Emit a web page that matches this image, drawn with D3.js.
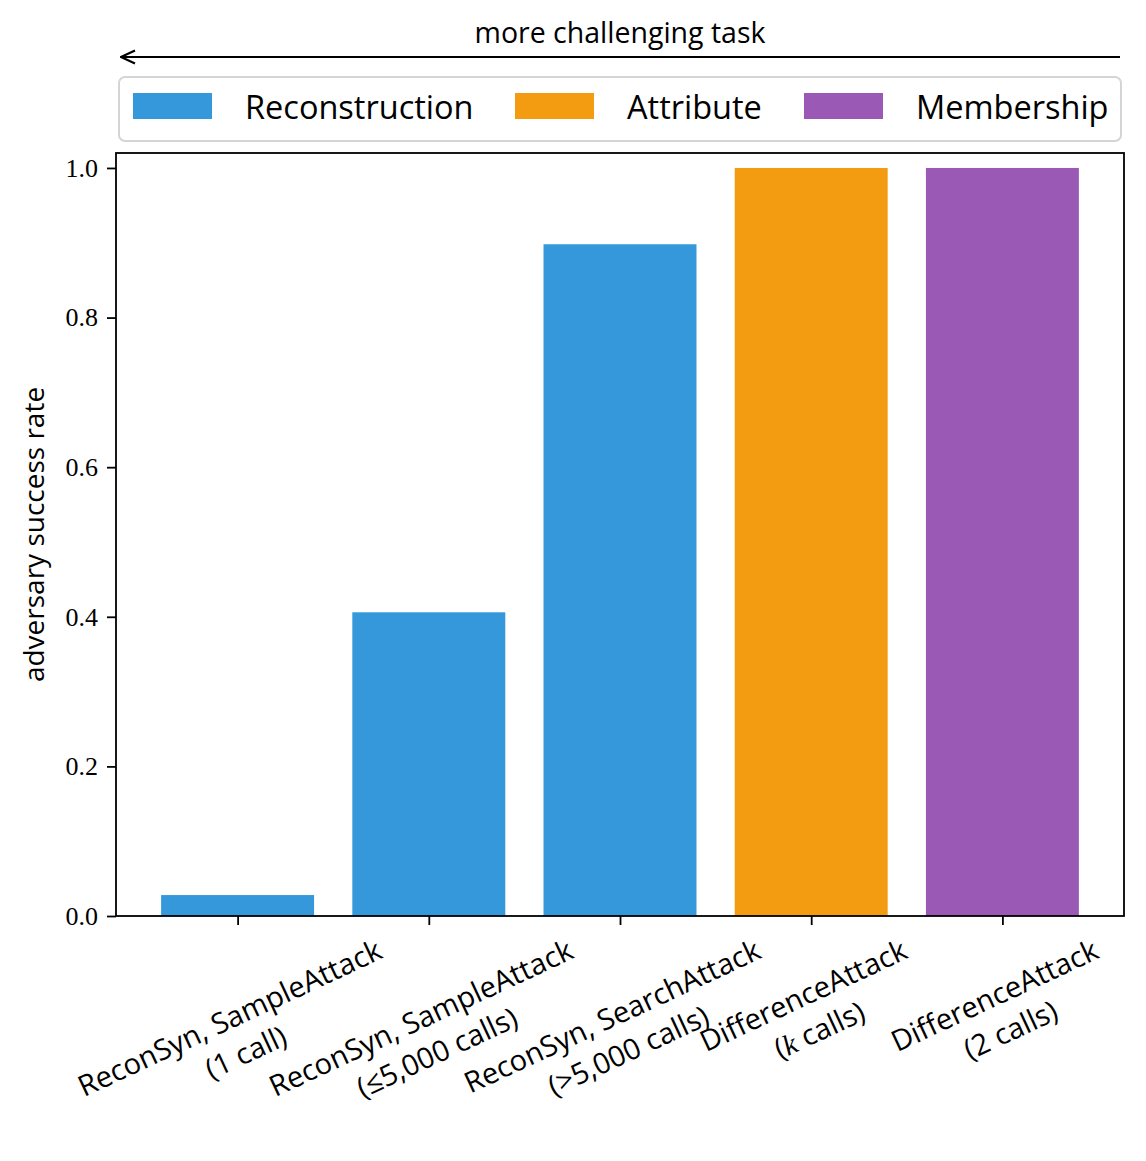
<!DOCTYPE html>
<html>
<head>
<meta charset="utf-8">
<script src="https://cdn.jsdelivr.net/npm/d3@7"></script>
<style>
  body { margin: 0; background: #fff; }
  svg { display: block; }
</style>
</head>
<body>
<svg id="chart" width="1146" height="1161"></svg>
<script>
// Data
const labelLine1 = ["ReconSyn, SampleAttack", "ReconSyn, SampleAttack", "ReconSyn, SearchAttack", "DifferenceAttack", "DifferenceAttack"];
const labelLine2 = ["(1 call)", "(\u22645,000 calls)", "(>5,000 calls)", "(k calls)", "(2 calls)"];
const successRate = [0.028, 0.406, 0.898, 1.0, 1.0];
const attackType = ["Reconstruction", "Reconstruction", "Reconstruction", "Attribute", "Membership"];
const legendNames = ["Reconstruction", "Attribute", "Membership"];
const legendColors = ["#3498db", "#f39c12", "#9b59b6"];
const yTicks = [0, 0.2, 0.4, 0.6, 0.8, 1.0];

const svg = d3.select("#chart");
const margin = { left: 116, right: 22, top: 153, bottom: 245 };
const width = 1146;
const height = 1161;
const sans = "'Open Sans', Lato, sans-serif";

const color = d3.scaleOrdinal().domain(legendNames).range(legendColors);

const x = d3.scalePoint()
  .domain(d3.range(successRate.length))
  .range([margin.left, width - margin.right])
  .padding(0.636);
const barW = x.step() * 0.8;

const y = d3.scaleLinear().domain([0, 1.02]).range([height - margin.bottom, margin.top]);

// Bars
svg.append("g").selectAll("rect")
  .data(successRate)
  .join("rect")
  .attr("x", (d, i) => x(i) - barW / 2)
  .attr("y", d => y(d))
  .attr("width", barW)
  .attr("height", d => y(0) - y(d))
  .attr("fill", (d, i) => color(attackType[i]));

// Y axis
const yAxis = svg.append("g")
  .attr("transform", `translate(${margin.left},0)`)
  .call(d3.axisLeft(y).tickValues(yTicks).tickFormat(d3.format(".1f")).tickSizeOuter(0).tickSize(9).tickPadding(9));
yAxis.selectAll("text")
  .attr("font-family", "'Liberation Serif', 'DejaVu Serif', serif")
  .attr("font-size", 26)
  .attr("fill", "#000");
yAxis.selectAll("line").attr("stroke-width", 1.8);
yAxis.select(".domain").remove();

// X axis ticks
const xAxis = svg.append("g")
  .attr("transform", `translate(0,${y(0)})`)
  .call(d3.axisBottom(x).tickFormat("").tickSizeOuter(0).tickSize(9));
xAxis.selectAll("line").attr("stroke-width", 1.8);
xAxis.select(".domain").remove();

// Frame
svg.append("rect")
  .attr("x", margin.left).attr("y", margin.top)
  .attr("width", width - margin.right - margin.left)
  .attr("height", y(0) - margin.top)
  .attr("fill", "none").attr("stroke", "#000").attr("stroke-width", 1.8);

// X tick labels, rotated 25 degrees, top of rotated box below axis
const labelTop = y(0) + 13;
successRate.forEach((d, i) => {
  const g = svg.append("g");
  const t = g.append("text")
    .attr("font-family", sans)
    .attr("font-size", 29)
    .attr("text-anchor", "middle")
    .attr("fill", "#000");
  t.append("tspan").attr("x", 0).attr("y", -10).text(labelLine1[i]);
  const l2 = t.append("tspan").attr("x", 0).attr("y", 28);
  if (labelLine2[i].includes("k calls")) {
    l2.append("tspan").text("(");
    l2.append("tspan").attr("font-family", "'Liberation Serif', serif").attr("font-style", "italic").text("k");
    l2.append("tspan").text(" calls)");
  } else {
    l2.text(labelLine2[i]);
  }
  g.attr("transform", `translate(${x(i)},0) rotate(-25)`);
  const r = g.node().getBoundingClientRect();
  const cx = r.left + r.width / 2;
  g.attr("transform", `translate(${2 * x(i) - cx},${labelTop - r.top}) rotate(-25)`);
});

// Y label
svg.append("text")
  .attr("transform", `translate(44,${(margin.top + y(0)) / 2}) rotate(-90)`)
  .attr("text-anchor", "middle")
  .attr("font-family", sans)
  .attr("font-size", 28)
  .text("adversary success rate");

// Legend
const legend = svg.append("g");
legend.append("rect")
  .attr("x", 119).attr("y", 77).attr("width", 1002).attr("height", 64)
  .attr("rx", 6)
  .attr("fill", "#fff").attr("stroke", "#d5d5d5").attr("stroke-width", 2);
const legendX = [133, 515, 804];
legendNames.forEach((name, i) => {
  legend.append("rect")
    .attr("x", legendX[i]).attr("y", 93).attr("width", 79).attr("height", 26)
    .attr("fill", legendColors[i]);
  legend.append("text")
    .attr("x", legendX[i] + 112).attr("y", 119)
    .attr("font-family", sans)
    .attr("font-size", 32.5)
    .text(name);
});

// Arrow annotation
svg.append("defs").append("marker")
  .attr("id", "head")
  .attr("viewBox", "0 0 16 16")
  .attr("refX", 15).attr("refY", 8)
  .attr("markerWidth", 16).attr("markerHeight", 16)
  .attr("markerUnits", "userSpaceOnUse")
  .attr("orient", "auto")
  .append("path")
  .attr("d", "M1,1.5 L15,8 L1,14.5")
  .attr("fill", "none").attr("stroke", "#000").attr("stroke-width", 2.2);
svg.append("line")
  .attr("x1", 1120).attr("y1", 57).attr("x2", 121).attr("y2", 57)
  .attr("stroke", "#000").attr("stroke-width", 2)
  .attr("marker-end", "url(#head)");
svg.append("text")
  .attr("x", 620).attr("y", 43)
  .attr("text-anchor", "middle")
  .attr("font-family", sans)
  .attr("font-size", 28.5)
  .text("more challenging task");
</script>
</body>
</html>
